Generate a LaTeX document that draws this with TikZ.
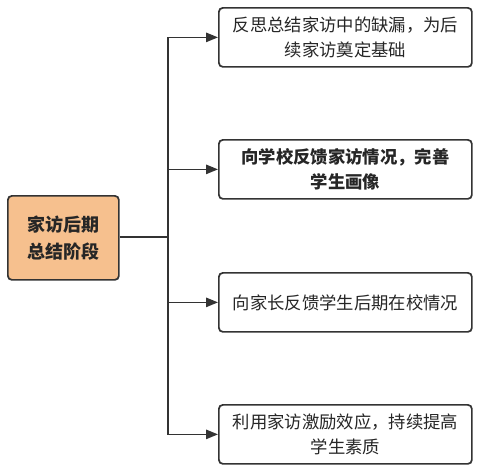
\documentclass[tikz,border=0pt]{standalone}
\usepackage{fontspec}
\setmainfont{Noto Sans CJK SC}
\usetikzlibrary{arrows.meta}
\begin{document}
\begin{tikzpicture}[x=0.75pt,y=-0.75pt,
  box/.style={draw=black!80,line width=1.3pt,rounded corners=3pt,fill=white,
    minimum width=253*0.75pt,minimum height=59*0.75pt,anchor=north west,
    align=center,font=\fontsize{13}{18.5}\selectfont,text=black!85,inner sep=0pt},
  root/.style={box,minimum width=111*0.75pt,minimum height=84*0.75pt,
    font=\fontsize{13.5}{20}\selectfont\bfseries},
  conn/.style={draw=black!80,line width=1.3pt},
  arr/.style={conn,-{Triangle[length=9pt,width=7pt]}}]
\useasboundingbox (0,0) rectangle (479,472);
\fill[white] (0,0) rectangle (479,472);
\definecolor{rootfill}{RGB}{246,192,142}
\node[root,fill=rootfill] (r) at (7,195) {家访后期\\总结阶段};
\node[box] (a) at (218,7) {反思总结家访中的缺漏，为后\\续家访奠定基础};
\node[box,font=\fontsize{13}{18.5}\selectfont\bfseries] (b) at (218,139) {向学校反馈家访情况，完善\\学生画像};
\node[box] (c) at (218,272) {向家长反馈学生后期在校情况};
\node[box] (d) at (218,404) {利用家访激励效应，持续提高\\学生素质};
\coordinate (j) at (168,237);
\draw[conn] (r.east |- j) -- (j);
\draw[arr] (j) |- (a.west);
\draw[arr] (j) |- (b.west);
\draw[arr] (j) |- (c.west);
\draw[arr] (j) |- (d.west);
\end{tikzpicture}
\end{document}
